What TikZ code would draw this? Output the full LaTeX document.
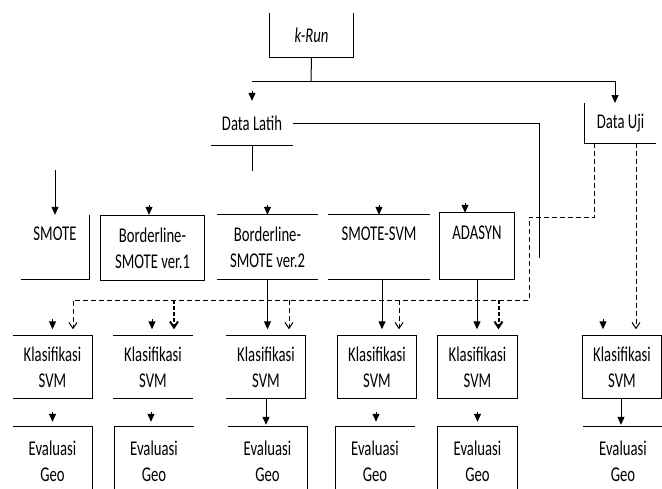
\documentclass[tikz,border=0pt]{standalone}
\usepackage{fontspec}
\setmainfont{Carlito}[FakeStretch=0.7]
\usetikzlibrary{arrows.meta, positioning, calc}
\newcommand{\cellfont}{\fontsize{21}{26}\selectfont}
\tikzset{
  cell/.style args={#1x#2}{minimum width=#1, minimum height=#2, inner sep=0pt,
                           align=center, font=\cellfont},
  rim/.style={line width=1pt},
  tip/.style={rim, -{Triangle[length=8pt, width=7pt]}},
  stub/.style={tip, shorten >=6pt},
  uji/.style={rim, dash pattern=on 5pt off 3pt},
  ujitip/.style={uji, -{Straight Barb[length=6pt, width=8pt]}, shorten >=6pt},
  ujibold/.style={ujitip, line width=2pt, dash pattern=on 4pt off 2pt},
}

\begin{document}
\begin{tikzpicture}[x=1pt, y=-1pt]
  \clip (0,0) rectangle (662,488);

  % Top: k-Run and the split into training and test data
  \node[cell=83x44, font=\cellfont\itshape] (kr) at (311.5,35) {k-Run};
  \node[cell=82x44] (dl) at (252,123) {Data Latih};
  \node[cell=71x40] (du) at (620.5,123) {Data Uji};
  \coordinate (split) at (311,81);
  \coordinate (ujitop) at (615,103);
  \coordinate (latihend) at (539,258);

  \draw[rim] (kr.north west) -- (kr.south west) -- (kr.south east) -- (kr.north east);
  \draw[rim] (dl.south west) -- (dl.south east);
  \draw[rim] (du.north west) -- (du.south west) -- (du.south east);
  \draw[rim] (kr.south) -- (split);
  \draw[rim] (split) -- (split -| dl.north);
  \draw[tip] (split) -| (ujitop);
  \draw[tip] ($(dl.north)+(0,-10)$) -- (dl.north);
  \draw[rim] (dl.east) -| (latihend);
  \draw[rim] (dl.south) -- ++(0,26);

  % Oversampling methods
  \node[cell=68x64] (sm) at (55,247) {SMOTE\\~};
  \node[cell=103x64] (b1) at (152.5,248) {Borderline-\\SMOTE ver.1};
  \node[cell=101x64] (b2) at (267.5,247) {Borderline-\\SMOTE ver.2};
  \node[cell=102x64] (ss) at (379,247) {SMOTE-SVM\\~};
  \node[cell=74x66] (ad) at (477,246) {ADASYN\\~};

  \draw[rim] (sm.north east) -- (sm.south east) -- (sm.south west);
  \draw[rim] (b1.south west) rectangle (b1.north east);
  \draw[rim] (b2.north west) -- (b2.north east) (b2.south west) -- (b2.south east);
  \draw[rim] (ss.north west) -- (ss.north east) (ss.south west) -- (ss.south east);
  \draw[rim] (ad.south west) rectangle (ad.north east);

  \draw[tip] ($(sm.north)+(0,-45)$) -- (sm.north);
  \draw[tip] ($(b1.north)+(-3.5,-11)$) -- ($(b1.north)+(-3.5,-1)$);
  \draw[tip] ($(b2.north)+(0,-10)$) -- (b2.north);
  \draw[tip] ($(ss.north)+(0,-10)$) -- (ss.north);
  \draw[tip] ($(ad.north)+(-12,-10)$) -- ($(ad.north)+(-12,0)$);

  % Classification and evaluation
  \foreach \n/\x in {1/52.5, 2/153, 3/266, 4/377, 5/477.5, 6/622}
    \node[cell=79x63] (k\n) at (\x,367) {Klasifikasi\\SVM};
  \foreach \n/\x in {1/52.5, 2/154, 3/267.5, 4/375, 5/477.5, 6/623}
    \node[cell=79x68] (e\n) at (\x,461) {Evaluasi\\Geo};

  \draw[rim] (k1.north west) -- (k1.north east) -- (k1.south east) -- (k1.south west);
  \draw[rim] (k2.north west) -- (k2.north east) (k2.south west) -- (k2.south east);
  \draw[rim] (k3.north west) -- (k3.north east) -- (k3.south east) -- (k3.south west);
  \foreach \n in {4,5,6}
    \draw[rim] (k\n.south west) rectangle (k\n.north east);
  \draw[rim] (e1.north west) -- (e1.north east) -- (e1.south east);
  \draw[rim] (e2.south west) -- (e2.north west) -- (e2.north east);
  \draw[rim] (e3.north west) -- (e3.north east) -- (e3.south east);
  \draw[rim] (e4.south west) -- (e4.north west) -- (e4.north east);
  \draw[rim] (e5.south west) -- (e5.north west) -- (e5.north east) -- (e5.south east);
  \draw[rim] (e6.north west) -- (e6.north east);

  \draw[stub] ($(k1.north)+(0,-16)$) -- (k1.north);
  \draw[stub] ($(k2.north)+(-1,-16)$) -- ($(k2.north)+(-1,0)$);
  \draw[stub] ($(k6.north)+(-19,-16)$) -- ($(k6.north)+(-19,0)$);
  \draw[stub] (b2.south) -- (b2.south |- k3.north);
  \draw[stub] ($(ss.south)+(3,0)$) -- ($(ss.south |- k4.north)+(3,0)$);
  \draw[stub] (ad.south) -- (ad.south |- k5.north);

  \draw[tip, shorten >=5pt] ($(e1.north)+(0,-15)$) -- (e1.north);
  \draw[tip, shorten >=5pt] ($(k2.south |- e2.north)+(-2,-15)$) -- ($(k2.south |- e2.north)+(-2,0)$);
  \draw[tip, shorten >=2pt] (k3.south) -- (k3.south |- e3.north);
  \draw[tip, shorten >=5pt] ($(e4.north)+(1,-15)$) -- ($(e4.north)+(1,0)$);
  \draw[tip, shorten >=5pt] ($(e5.north)+(0,-15)$) -- (e5.north);
  \draw[tip, shorten >=2pt] ($(k6.south)+(-1,0)$) -- ($(k6.south |- e6.north)+(-1,0)$);

  % Test data routed to every classifier
  \coordinate (ujibend) at (529,217);
  \coordinate (ujibus) at (529,300);
  \draw[ujitip] ($(du.south west)+(10,0)$) |- (ujibend) -- (ujibus)
       -| ($(k1.north)+(20.5,0)$);
  \foreach \k/\dx/\kind in {k2/21/ujibold, k3/23/ujitip, k4/22/ujitip, k5/21/ujibold} {
    \coordinate (\k-in) at ($(\k.north)+(\dx,0)$);
    \draw[\kind] (ujibus -| \k-in) -- (\k-in);
  }
  \draw[ujitip] ($(du.south)+(15.5,0)$) -- ($(du.south |- k6.north)+(15.5,0)$);
\end{tikzpicture}
\end{document}
